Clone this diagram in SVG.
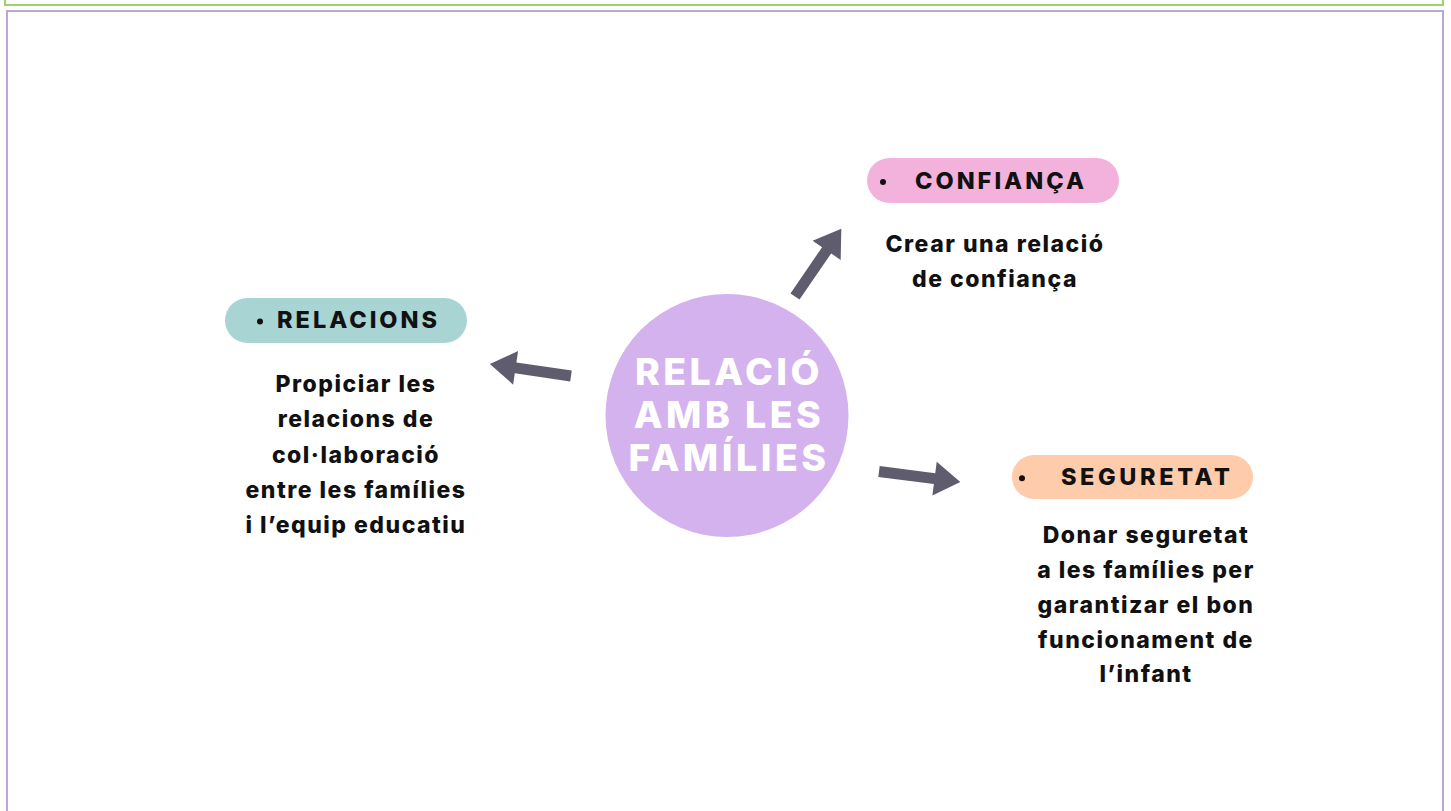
<svg xmlns="http://www.w3.org/2000/svg" xmlns:xlink="http://www.w3.org/1999/xlink" width="1451" height="811" viewBox="0 0 1451 811">
  <style>
    .frame-green { fill: none; stroke: #9cd46c; stroke-width: 2; }
    .frame-purple { fill: none; stroke: #bba8d6; stroke-width: 2; }
    .pill-text { font-family: Inter, "Liberation Sans", sans-serif; font-weight: 800; font-size: 23.5px; fill: #111111; }
    .body { font-family: Inter, "Liberation Sans", sans-serif; font-weight: 800; font-size: 23px; fill: #111111; text-anchor: middle; letter-spacing: 1.5px; }
    .center-text { font-family: Inter, "Liberation Sans", sans-serif; font-weight: 800; font-size: 37.5px; fill: #ffffff; text-anchor: middle; letter-spacing: 3.5px; }
    .arrow { fill: #5f5d6d; }
    .bullet { fill: #111111; }
  </style>
  <defs>
    <path id="arrowShape" d="M0,-5.5 H56 V-17 L82,0 L56,17 V5.5 H0 Z"/>
  </defs>
  <rect width="1451" height="811" fill="#ffffff"/>
  <rect class="frame-green" x="5" y="-10" width="1438" height="15"/>
  <rect class="frame-purple" x="7" y="11" width="1436" height="820"/>

  <g id="connectors">
    <use xlink:href="#arrowShape" class="arrow" transform="translate(795,296.5) rotate(-55.6)"/>
    <use xlink:href="#arrowShape" class="arrow" transform="translate(571,376) rotate(188.4)"/>
    <use xlink:href="#arrowShape" class="arrow" transform="translate(879,471.5) rotate(7.3)"/>
  </g>

  <g id="node-center">
    <circle cx="727" cy="415.5" r="121.5" fill="#d4b2ee"/>
    <text class="center-text" x="729" y="385">RELACIÓ</text>
    <text class="center-text" x="729" y="428">AMB LES</text>
    <text class="center-text" x="729" y="471">FAMÍLIES</text>
  </g>

  <g id="node-confianca">
    <rect x="867" y="158" width="252" height="45" rx="22.5" fill="#f3b2db"/>
    <circle class="bullet" cx="883" cy="182" r="3"/>
    <text class="pill-text" x="915" y="188.5" textLength="169" lengthAdjust="spacing">CONFIANÇA</text>
    <text class="body" x="995" y="251.7">Crear una relació</text>
    <text class="body" x="995" y="286.7">de confiança</text>
  </g>

  <g id="node-relacions">
    <rect x="225" y="298" width="242" height="45" rx="22.5" fill="#a8d4d4"/>
    <circle class="bullet" cx="260" cy="321.5" r="3"/>
    <text class="pill-text" x="277" y="327.5" textLength="160" lengthAdjust="spacing">RELACIONS</text>
    <text class="body" x="356" y="391.7">Propiciar les</text>
    <text class="body" x="356" y="427">relacions de</text>
    <text class="body" x="356" y="462.5">col·laboració</text>
    <text class="body" x="356" y="497.8">entre les famílies</text>
    <text class="body" x="356" y="533">i l’equip educatiu</text>
  </g>

  <g id="node-seguretat">
    <rect x="1012" y="455" width="241" height="44" rx="22" fill="#fecbab"/>
    <circle class="bullet" cx="1022" cy="478.3" r="3"/>
    <text class="pill-text" x="1061" y="485" textLength="169" lengthAdjust="spacing">SEGURETAT</text>
    <text class="body" x="1146" y="543">Donar seguretat</text>
    <text class="body" x="1146" y="578">a les famílies per</text>
    <text class="body" x="1146" y="613">garantizar el bon</text>
    <text class="body" x="1146" y="647.5">funcionament de</text>
    <text class="body" x="1146" y="682">l’infant</text>
  </g>
</svg>
